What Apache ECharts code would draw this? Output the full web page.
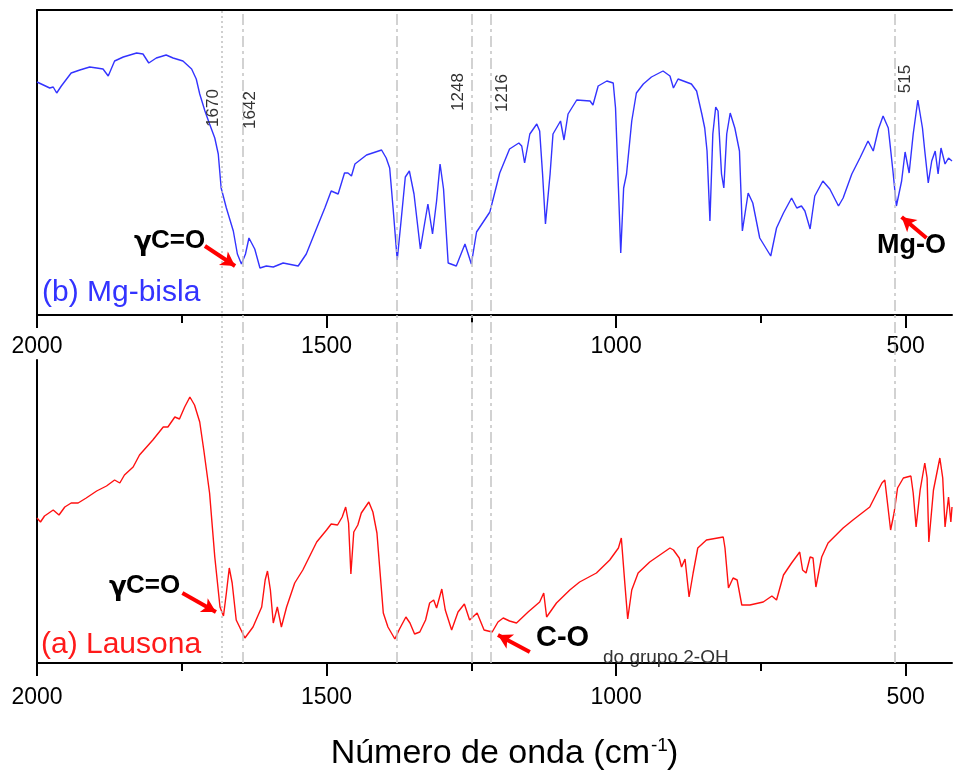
<!DOCTYPE html>
<html><head><meta charset="utf-8">
<script src="https://cdn.jsdelivr.net/npm/echarts@6/dist/echarts.min.js"></script>
<style>html,body{margin:0;padding:0;background:#fff}#c{width:953px;height:775px}</style>
</head><body><div id="c"></div>
<script>
// ---- data (wavenumber cm-1, transmittance in arbitrary units) ----
const mgBisla = [[2000,233],[1978,227],[1972,228],[1966,222],[1958,229],[1941,242],[1926,245],[1909,248],[1897,247],[1886,246],[1877,239],[1866,254],[1851,258],[1828,262],[1817,261],[1807,252],[1794,257],[1777,260],[1765,257],[1748,254],[1733,246],[1725,236],[1719,221],[1710,204],[1702,191],[1693,177],[1687,161],[1682,127],[1673,107],[1661,84],[1654,61],[1647,51],[1640,61],[1634,77],[1624,66],[1615,47],[1604,49],[1592,48],[1575,52],[1549,49],[1535,61],[1517,87],[1503,107],[1492,124],[1480,121],[1469,142],[1463,142],[1457,139],[1451,151],[1431,160],[1405,165],[1397,157],[1391,147],[1385,106],[1378,55],[1371,96],[1364,138],[1357,144],[1349,121],[1338,66],[1332,87],[1325,111],[1317,81],[1310,114],[1304,151],[1298,126],[1290,52],[1276,49],[1261,71],[1256,62],[1250,51],[1241,83],[1218,103],[1201,142],[1184,166],[1168,172],[1163,169],[1158,152],[1149,181],[1137,191],[1132,184],[1127,141],[1122,91],[1114,141],[1109,181],[1096,194],[1090,175],[1083,201],[1068,215],[1045,214],[1040,210],[1031,229],[1016,234],[1005,232],[1001,207],[996,127],[992,62],[987,127],[982,141],[973,194],[965,222],[953,231],[939,238],[919,244],[907,239],[901,227],[893,236],[870,231],[861,224],[852,201],[847,187],[843,164],[838,94],[833,181],[828,208],[824,204],[818,141],[814,127],[809,181],[803,202],[795,187],[787,164],[782,84],[772,122],[764,112],[752,77],[733,59],[723,87],[711,102],[697,117],[688,107],[680,109],[674,104],[665,86],[657,119],[643,134],[631,126],[616,109],[608,117],[593,141],[579,157],[565,174],[556,164],[547,186],[539,199],[530,187],[522,144],[516,109],[507,134],[501,163],[494,142],[487,181],[479,215],[471,187],[467,164],[461,132],[455,154],[449,164],[444,141],[439,167],[432,151],[426,157],[420,154]];
const lausona = [[2000,145],[1994,141],[1987,147],[1972,153],[1962,148],[1952,156],[1941,160],[1929,160],[1915,165],[1897,172],[1880,177],[1866,183],[1857,180],[1849,188],[1834,196],[1823,208],[1800,223],[1782,236],[1774,236],[1762,246],[1754,244],[1745,256],[1736,266],[1728,258],[1719,241],[1712,213],[1702,170],[1693,106],[1684,56],[1678,47],[1673,70],[1668,95],[1663,80],[1656,43],[1641,25],[1627,36],[1612,56],[1606,83],[1602,92],[1597,73],[1592,40],[1585,56],[1578,36],[1569,56],[1555,80],[1541,93],[1517,121],[1500,133],[1492,139],[1481,138],[1473,146],[1467,156],[1462,140],[1458,89],[1453,131],[1446,138],[1440,150],[1427,161],[1420,151],[1413,130],[1402,50],[1394,36],[1382,24],[1374,34],[1363,46],[1356,40],[1348,29],[1339,31],[1329,43],[1322,60],[1315,63],[1310,55],[1301,74],[1295,53],[1284,33],[1273,51],[1262,59],[1253,43],[1240,50],[1228,33],[1214,31],[1204,41],[1195,45],[1184,42],[1172,40],[1152,51],[1132,61],[1125,70],[1120,46],[1103,60],[1080,73],[1063,81],[1034,90],[1011,103],[996,115],[991,125],[985,80],[980,44],[973,73],[962,90],[942,101],[907,115],[901,113],[891,105],[887,96],[881,104],[874,66],[867,90],[859,115],[844,123],[815,126],[812,115],[806,75],[798,85],[791,83],[783,58],[769,58],[746,61],[731,67],[723,63],[711,88],[697,100],[683,111],[678,93],[672,90],[665,106],[660,105],[655,76],[645,106],[634,120],[608,135],[591,143],[562,156],[541,180],[536,183],[532,163],[526,133],[520,150],[514,175],[504,185],[491,187],[487,170],[482,136],[475,173],[467,200],[463,185],[460,121],[452,173],[441,205],[436,185],[432,136],[426,166],[422,141],[420,156]];
const xTicks = [2000, 1500, 1000, 500];
const xMinorTicks = [1750, 1250, 750];
const refLines = [1681, 1644, 1379, 1250, 1216, 518];
const refLineLabels = ['1670', '1642', '', '1248', '1216', '515'];
const arrowsMg = [[[1710, 69], [1658, 49]], [[464, 77], [507, 98]]];
const arrowsLa = [[[1749, 70], [1691, 51]], [[1149, 11], [1204, 28]]];

// ---- layout / style ----
const FONT = '"Liberation Sans", Arial, sans-serif';
const GFONT = '"DejaVu Sans", sans-serif';
const XMIN = 420, XMAX = 2000;
const axisColor = '#000';
const labelLayout = [[-8, 108], [7, 110], [0, 0], [-13, 92], [11, 93], [10, 79]];

function mainX(g, margin) {
  return { gridIndex: g, type: 'value', min: XMIN, max: XMAX, inverse: true, position: 'bottom',
    axisLine: { show: true, onZero: false, lineStyle: { color: axisColor, width: 2 } },
    axisTick: { show: true, customValues: xTicks, length: 13, lineStyle: { color: axisColor, width: 2 } },
    axisLabel: { show: true, customValues: xTicks, margin: margin, fontSize: 23, fontFamily: FONT, color: '#000',
      formatter: v => String(v) },
    splitLine: { show: false } };
}
function minorX(g) {
  return { gridIndex: g, type: 'value', min: XMIN, max: XMAX, inverse: true, position: 'bottom',
    axisLine: { show: false, onZero: false },
    axisTick: { show: true, customValues: xMinorTicks, length: 8, lineStyle: { color: axisColor, width: 2 } },
    axisLabel: { show: false }, splitLine: { show: false } };
}
function yAx(g, max, show) {
  return { gridIndex: g, type: 'value', min: 0, max: max, show: show,
    axisLine: { show: true, onZero: false, lineStyle: { color: axisColor, width: 2 } },
    axisTick: { show: false }, axisLabel: { show: false }, splitLine: { show: false } };
}
function arrowLines(list) {
  return { silent: true, symbol: ['none', 'arrow'], symbolSize: [12, 14], label: { show: false },
    lineStyle: { color: '#ff0000', width: 4, type: 'solid' }, emphasis: { disabled: true },
    data: list.map(a => [{ coord: a[0] }, { coord: a[1] }]) };
}

const chart = echarts.init(document.getElementById('c'), null, { renderer: 'canvas' });
chart.setOption({
  animation: false,
  backgroundColor: '#fff',
  grid: [
    { left: 37, right: 1, top: 10, height: 305 },
    { left: 37, right: 1, top: 360, height: 303 },
    { left: 37, right: 1, top: 10, height: 653 }
  ],
  xAxis: [
    mainX(0, 20), minorX(0),
    { gridIndex: 0, type: 'value', min: XMIN, max: XMAX, inverse: true, position: 'top',
      axisLine: { show: true, onZero: false, lineStyle: { color: axisColor, width: 2 } },
      axisTick: { show: false }, axisLabel: { show: false }, splitLine: { show: false } },
    mainX(1, 23), minorX(1),
    { gridIndex: 2, type: 'value', min: XMIN, max: XMAX, inverse: true, show: false, splitLine: { show: false } }
  ],
  yAxis: [yAx(0, 305, true), yAx(1, 303, true), yAx(2, 653, false)],
  series: [
    { type: 'line', xAxisIndex: 5, yAxisIndex: 2, data: [], z: 1, silent: true,
      markLine: { silent: true, symbol: 'none', label: { show: false }, emphasis: { disabled: true },
        lineStyle: { color: '#c4c4c4', width: 1.5, type: [11, 4, 3, 4] },
        data: refLines.map((v, i) => i === 0 ? { xAxis: v, lineStyle: { type: [2, 3], color: '#c0c0c0' } } : { xAxis: v }) } },
    { type: 'line', name: 'Mg-bisla', xAxisIndex: 0, yAxisIndex: 0, data: mgBisla, z: 3,
      showSymbol: false, symbol: 'none', lineStyle: { color: '#3333ff', width: 1.4 }, itemStyle: { color: '#3333ff' },
      markLine: arrowLines(arrowsMg) },
    { type: 'line', name: 'Lausona', xAxisIndex: 3, yAxisIndex: 1, data: lausona, z: 3,
      showSymbol: false, symbol: 'none', lineStyle: { color: '#ff1010', width: 1.4 }, itemStyle: { color: '#ff1010' },
      markLine: arrowLines(arrowsLa) }
  ]
});

function txt(text, x, y, size, color, weight, family, align) {
  return { type: 'text', x: x, y: y, z: 10, silent: true,
    style: { text: text, fontSize: size, fontFamily: family || FONT, fontWeight: weight || 'normal', fill: color,
      align: align || 'left', verticalAlign: 'middle', textAlign: align || 'left', textVerticalAlign: 'middle' } };
}
const graphics = [
  txt('(b) Mg-bisla', 42, 293, 30, '#3333ff'),
  txt('(a) Lausona', 41, 645, 30, '#ff1a1a'),
  txt('\u03b3', 134, 243, 26, '#000', 'bold', GFONT),
  txt('C=O', 151, 241, 26, '#000', 'bold'),
  txt('\u03b3', 109, 588, 26, '#000', 'bold', GFONT),
  txt('C=O', 126, 586, 26, '#000', 'bold'),
  txt('Mg-O', 877, 246, 27, '#000', 'bold'),
  txt('C-O', 536, 638, 29, '#000', 'bold'),
  txt('do grupo 2-OH', 603, 658, 19, '#333'),
  txt('N\u00famero de onda (cm', 650, 754, 34, '#000', 'normal', FONT, 'right'),
  txt('-1', 651, 746, 19, '#000'),
  txt(')', 667, 754, 34, '#000')
];
refLines.forEach((v, i) => {
  if (!refLineLabels[i]) return;
  const px = chart.convertToPixel({ xAxisIndex: 5 }, v);
  graphics.push({ type: 'text', x: px + labelLayout[i][0], y: labelLayout[i][1], rotation: Math.PI / 2, z: 10, silent: true,
    style: { text: refLineLabels[i], fontSize: 17, fontFamily: FONT, fill: '#333',
      align: 'center', verticalAlign: 'middle', textAlign: 'center', textVerticalAlign: 'middle' } });
});
chart.setOption({ graphic: graphics });
</script></body></html>
